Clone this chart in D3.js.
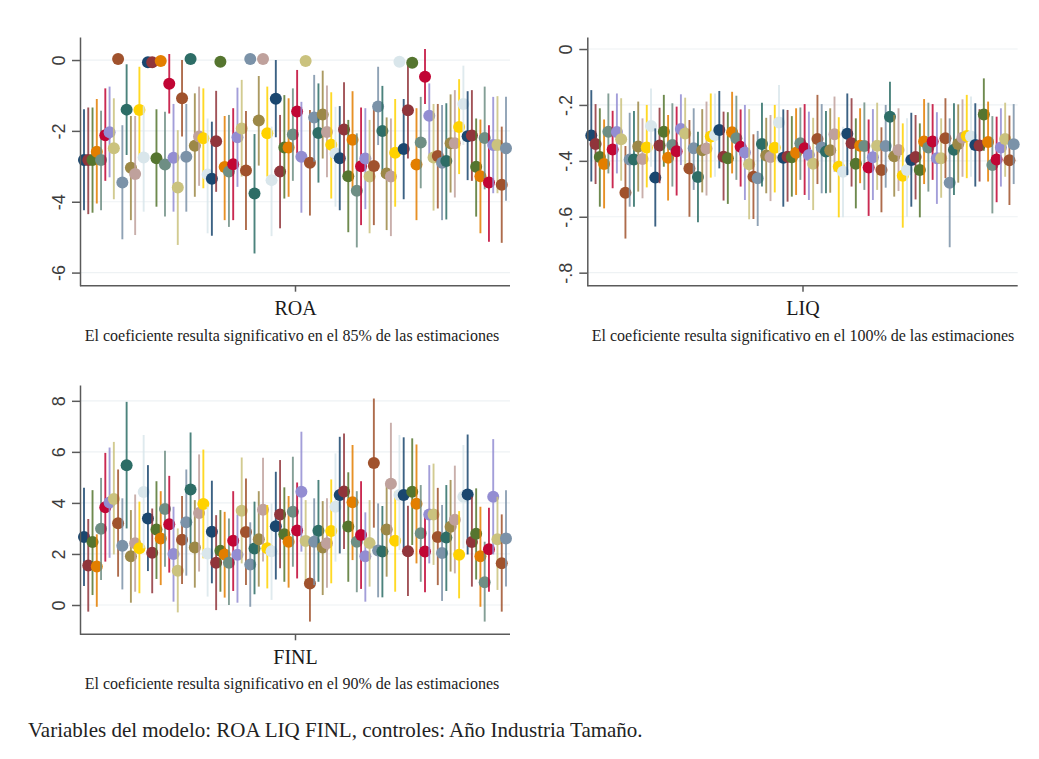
<!DOCTYPE html>
<html>
<head>
<meta charset="utf-8">
<script src="https://cdnjs.cloudflare.com/ajax/libs/d3/7.8.5/d3.min.js"></script>
<style>
    html, body { margin: 0; padding: 0; background: #fff; }
    svg { display: block; }
    .grid line { stroke: #eef2f4; stroke-width: 1.2; }
    .axis path, .axis line { stroke: #5a5a5a; stroke-width: 1.5; }
    .axis text { fill: #3c3c3c; font-family: "Liberation Sans", Arial, sans-serif; font-size: 18px; }
    .axis-x text { fill: #1a1a1a; font-family: "Liberation Serif", "Times New Roman", serif; font-size: 20px; }
    .note { fill: #222; font-family: "Liberation Serif", "Times New Roman", serif; font-size: 16px; text-anchor: middle; }
    .footnote { fill: #222; font-family: "Liberation Serif", "Times New Roman", serif; font-size: 21px; }
</style>
</head>
<body>
<div id="chart"></div>
<script>
// Stata s2color cycle, 15 colours repeated over the 100 estimations
const seriesColors = ['#1a476f','#90353b','#55752f','#e37e00','#6e8e84','#c10534','#938dd2','#cac27e','#a0522d','#7b92a8','#2d6d66','#9c8847','#bfa19c','#ffd200','#d9e6eb'];
const estimations = d3.range(1, 101);

const roaCoef = [-2.82,-2.82,-2.82,-2.59,-2.82,-2.12,-2.04,-2.49,0.03,-3.46,-1.40,-3.04,-3.22,-1.41,-2.75,-0.06,-0.06,-2.77,-0.03,-2.95,
    -0.67,-2.76,-3.60,-1.08,-2.73,0.03,-2.42,-2.16,-2.21,-3.23,-3.35,-2.29,-0.05,-3.02,-3.15,-2.94,-2.18,-1.93,-3.12,0.03,
    -3.77,-1.71,0.03,-2.07,-3.39,-1.09,-3.15,-2.47,-2.47,-2.10,-1.45,-2.73,-0.03,-2.90,-1.62,-2.06,-1.54,-2.03,-2.39,-2.64,
    -2.77,-1.96,-3.28,-2.25,-3.69,-3.00,-2.78,-3.29,-2.99,-1.31,-2.00,-3.20,-3.29,-2.62,-0.05,-2.51,-1.42,-0.08,-2.95,-2.33,
    -0.47,-1.57,-2.75,-2.71,-2.90,-2.85,-2.35,-2.35,-1.89,-1.24,-2.15,-2.13,-3.01,-3.28,-2.20,-3.46,-2.40,-2.40,-3.52,-2.49];
const roaLow = [-4.24,-4.35,-4.31,-4.05,-4.24,-3.41,-3.31,-3.93,null,-5.06,-2.68,-4.52,-4.94,-2.73,-4.28,null,null,-4.14,null,-4.42,
    -1.51,-4.28,-5.22,-2.16,-4.28,null,-3.86,-3.55,-3.62,-4.89,-4.96,-3.72,null,-4.52,-4.71,-4.52,-3.58,-3.29,-4.80,null,
    -5.46,-2.98,null,-3.29,-4.97,-2.18,-4.75,-3.91,-3.86,-3.41,-2.64,-4.31,null,-4.39,-2.87,-3.46,-2.78,-3.31,-3.91,-4.14,
    -4.24,-3.29,-4.86,-3.67,-5.29,-4.66,-4.21,-4.89,-4.66,-2.40,-3.29,-4.80,-4.97,-4.14,null,-3.93,-2.78,null,-4.52,-3.62,
    -1.24,-2.73,-4.25,-4.19,-4.52,-4.50,-3.74,-3.88,-3.22,-2.40,-3.39,-3.41,-4.42,-4.89,-3.65,-5.13,-3.76,-3.76,-5.16,-3.97];
const roaHigh = [-1.39,-1.34,-1.34,-1.10,-1.43,-0.80,-0.75,-1.08,null,-1.84,-0.12,-1.58,-1.58,-0.19,-1.30,null,null,-1.39,null,-1.46,
    0.17,-1.24,-1.98,0.00,-1.24,null,-0.94,-0.75,-0.80,-1.65,-1.74,-0.87,null,-1.58,-1.55,-1.36,-0.78,-0.56,-1.44,null,
    -2.09,-0.45,null,-0.75,-1.88,0.00,-1.55,-0.99,-1.08,-0.80,-0.28,-1.18,null,-1.41,-0.42,-0.66,-0.30,-0.72,-0.91,-1.32,
    -1.30,-0.63,-1.69,-0.88,-2.07,-1.34,-1.36,-1.69,-1.36,-0.19,-0.73,-1.62,-1.65,-1.10,null,-1.10,-0.09,null,-1.36,-1.04,
    0.31,-0.66,-1.24,-1.24,-1.27,-1.22,-0.97,-0.85,-0.54,-0.16,-0.88,-0.85,-1.65,-1.68,-0.75,-1.84,-1.04,-1.02,-1.88,-1.04];

const liqCoef = [-0.309,-0.340,-0.386,-0.411,-0.296,-0.359,-0.297,-0.323,-0.514,-0.395,-0.395,-0.349,-0.393,-0.352,-0.275,-0.460,-0.345,-0.296,-0.389,-0.343,
    -0.366,-0.286,-0.302,-0.427,-0.355,-0.458,-0.362,-0.356,-0.313,-0.308,-0.290,-0.385,-0.391,-0.298,-0.319,-0.350,-0.370,-0.412,-0.457,-0.462,
    -0.340,-0.381,-0.386,-0.353,-0.263,-0.389,-0.385,-0.387,-0.371,-0.337,-0.355,-0.379,-0.410,-0.322,-0.352,-0.367,-0.362,-0.305,-0.421,-0.439,
    -0.303,-0.337,-0.410,-0.346,-0.347,-0.424,-0.387,-0.346,-0.433,-0.347,-0.242,-0.384,-0.361,-0.453,-0.433,-0.397,-0.386,-0.433,-0.331,-0.352,
    -0.331,-0.391,-0.391,-0.319,-0.478,-0.360,-0.340,-0.317,-0.311,-0.313,-0.343,-0.345,-0.234,-0.333,-0.415,-0.395,-0.352,-0.322,-0.398,-0.341];
const liqLow = [-0.474,-0.483,-0.564,-0.570,-0.445,-0.498,-0.445,-0.471,-0.678,-0.564,-0.564,-0.510,-0.534,-0.495,-0.421,-0.635,-0.480,-0.421,-0.542,-0.492,
    -0.524,-0.415,-0.433,-0.600,-0.504,-0.620,-0.513,-0.524,-0.460,-0.457,-0.427,-0.542,-0.554,-0.445,-0.468,-0.492,-0.540,-0.609,-0.608,-0.633,
    -0.492,-0.516,-0.544,-0.513,-0.409,-0.564,-0.546,-0.528,-0.522,-0.468,-0.522,-0.540,-0.576,-0.483,-0.516,-0.516,-0.514,-0.439,-0.602,-0.602,
    -0.451,-0.492,-0.570,-0.480,-0.504,-0.597,-0.540,-0.504,-0.584,-0.496,-0.367,-0.528,-0.508,-0.639,-0.600,-0.564,-0.538,-0.602,-0.483,-0.510,
    -0.468,-0.554,-0.532,-0.462,-0.709,-0.522,-0.478,-0.457,-0.462,-0.457,-0.492,-0.474,-0.364,-0.474,-0.588,-0.548,-0.492,-0.457,-0.558,-0.483];
const liqHigh = [-0.147,-0.197,-0.212,-0.252,-0.159,-0.221,-0.159,-0.176,-0.347,-0.228,-0.222,-0.188,-0.248,-0.200,-0.141,-0.284,-0.210,-0.164,-0.236,-0.194,
    -0.206,-0.162,-0.174,-0.254,-0.212,-0.296,-0.215,-0.188,-0.159,-0.159,-0.150,-0.224,-0.226,-0.153,-0.167,-0.216,-0.200,-0.215,-0.305,-0.293,
    -0.192,-0.246,-0.236,-0.200,-0.129,-0.216,-0.218,-0.240,-0.212,-0.209,-0.197,-0.224,-0.246,-0.164,-0.197,-0.222,-0.212,-0.170,-0.244,-0.278,
    -0.159,-0.176,-0.248,-0.212,-0.191,-0.252,-0.215,-0.192,-0.280,-0.200,-0.117,-0.236,-0.212,-0.266,-0.248,-0.228,-0.236,-0.266,-0.179,-0.192,
    -0.197,-0.226,-0.248,-0.176,-0.248,-0.194,-0.198,-0.180,-0.164,-0.170,-0.194,-0.215,-0.105,-0.188,-0.240,-0.242,-0.212,-0.192,-0.238,-0.197];

const finlCoef = [2.66,1.55,2.47,1.51,2.99,3.83,4.02,4.15,3.20,2.32,5.48,1.91,2.42,2.22,4.43,3.39,2.05,2.96,2.61,3.76,
    3.16,2.00,1.34,2.56,3.24,4.53,2.25,3.60,3.96,2.02,2.87,1.66,2.13,1.98,1.66,2.52,1.97,3.69,2.86,1.59,
    2.21,2.58,3.73,2.22,2.11,3.09,3.55,2.77,2.48,3.65,2.92,4.44,2.51,0.84,2.48,2.91,2.25,2.42,2.90,3.85,
    4.31,4.45,3.08,4.03,2.48,2.74,1.91,2.43,5.56,2.14,2.10,2.96,4.75,2.52,4.31,4.31,2.11,4.44,3.97,2.81,
    2.10,3.55,3.55,2.66,2.04,2.64,3.07,3.34,1.97,4.24,4.33,2.47,2.79,1.91,0.89,2.18,4.24,2.58,1.64,2.61];
const finlLow = [0.74,-0.26,0.39,-0.07,0.98,1.70,1.85,1.98,1.11,0.61,3.00,0.09,0.52,0.46,2.22,1.33,0.46,1.02,0.78,1.50,
    1.27,0.13,-0.29,0.82,1.15,2.28,0.68,1.31,1.83,0.33,0.85,-0.20,0.52,0.29,0.00,0.55,0.09,1.63,0.78,-0.07,
    0.42,0.72,1.70,0.65,0.20,1.00,1.44,0.91,0.68,1.50,1.04,2.09,0.85,-0.65,0.78,0.91,0.39,0.68,0.85,1.70,
    2.02,2.19,0.91,1.76,0.50,0.63,0.13,0.72,3.03,0.30,0.30,1.11,2.42,0.52,2.15,2.22,0.35,2.35,1.63,0.91,
    0.50,1.63,1.57,0.78,0.16,0.55,1.31,1.24,0.26,2.22,1.98,0.72,1.00,-0.07,-0.65,0.52,1.98,0.59,-0.26,0.72];
const finlHigh = [4.59,3.37,4.50,2.77,4.98,5.96,6.17,6.39,5.31,4.18,7.96,3.72,4.33,4.05,6.66,5.48,3.78,4.85,4.46,6.04,
    5.06,3.85,3.00,4.27,5.31,6.76,4.11,5.90,6.09,3.85,4.87,3.52,3.72,3.65,3.39,4.46,3.55,5.78,4.96,3.24,
    4.05,4.46,5.77,3.92,3.98,5.22,5.68,4.61,4.27,5.81,4.80,6.79,4.11,2.35,4.18,4.90,4.07,4.18,4.92,5.94,
    6.59,6.72,5.20,6.27,4.46,4.85,3.63,4.11,8.09,3.98,3.88,4.76,7.14,4.44,6.66,6.57,3.89,6.53,6.29,4.70,
    3.65,5.48,5.54,4.59,3.92,4.70,4.90,5.46,3.68,6.27,6.68,4.24,4.57,3.85,2.48,3.81,6.50,4.24,3.55,4.50];

const roaTicks = [0, -2, -4, -6];
const liqTicks = [0, -.2, -.4, -.6, -.8];
const finlTicks = [0, 2, 4, 6, 8];

const svg = d3.select('#chart').append('svg')
    .attr('width', 1039)
    .attr('height', 759)
    .attr('xmlns', 'http://www.w3.org/2000/svg');

function tickText(d){
    // Stata writes -.2 rather than -0.2
    return String(d).replace('0.', '.');
}

function drawPanel(config){
    const x = d3.scaleLinear().domain([1, 100]).range([config.left + 4, config.right - 4]);
    const y = d3.scaleLinear().domain(config.domain).range([config.bottom, config.top]);

    const g = svg.append('g');

    g.append('g')
        .attr('class', 'grid')
        .selectAll('line')
        .data(config.ticks)
        .join('line')
        .attr('x1', config.left)
        .attr('x2', config.right)
        .attr('y1', d => y(d))
        .attr('y2', d => y(d));

    const marks = g.append('g')
        .selectAll('g')
        .data(estimations)
        .join('g');

    marks.filter(d => config.low[d - 1] !== null)
        .append('line')
        .attr('x1', d => x(d))
        .attr('x2', d => x(d))
        .attr('y1', d => y(config.low[d - 1]))
        .attr('y2', d => y(config.high[d - 1]))
        .attr('stroke', d => seriesColors[(d - 1) % 15])
        .attr('stroke-width', 1.9)
        .attr('stroke-opacity', 0.85);

    marks.append('circle')
        .attr('cx', d => x(d))
        .attr('cy', d => y(config.coef[d - 1]))
        .attr('r', 6)
        .attr('fill', d => seriesColors[(d - 1) % 15]);

    const axisY = d3.axisLeft(y)
        .tickValues(config.ticks)
        .tickFormat(tickText)
        .tickSize(8)
        .tickSizeOuter(0);

    // tick labels stand on their side, as Stata draws them
    g.append('g')
        .attr('class', 'axis')
        .attr('transform', 'translate(' + config.left + ',0)')
        .call(axisY)
        .selectAll('text')
        .attr('text-anchor', 'middle')
        .attr('x', 0)
        .attr('y', 0)
        .attr('dy', 0)
        .attr('transform', 'translate(-15,0) rotate(-90)');

    // only one tick in the middle, it carries the name of the variable
    const axisX = d3.axisBottom(x)
        .tickValues([50.5])
        .tickFormat(() => config.name)
        .tickSize(6)
        .tickSizeOuter(0)
        .tickPadding(9.6);

    g.append('g')
        .attr('class', 'axis axis-x')
        .attr('transform', 'translate(0,' + config.bottom + ')')
        .call(axisX)
        .select('.domain')
        .attr('d', 'M' + config.left + ',0H' + config.right);

    g.append('text')
        .attr('class', 'note')
        .attr('x', config.noteX)
        .attr('y', config.bottom + 55)
        .text(config.note);
}

drawPanel({
    name: 'ROA', coef: roaCoef, low: roaLow, high: roaHigh, ticks: roaTicks,
    domain: [-6.37, 0.65], left: 80, right: 510, top: 37, bottom: 285.7, noteX: 292,
    note: 'El coeficiente resulta significativo en el 85% de las estimaciones'
});
drawPanel({
    name: 'LIQ', coef: liqCoef, low: liqLow, high: liqHigh, ticks: liqTicks,
    domain: [-0.8466, 0.043], left: 587.3, right: 1017.7, top: 37, bottom: 285.7, noteX: 803,
    note: 'El coeficiente resulta significativo en el 100% de las estimaciones'
});
drawPanel({
    name: 'FINL', coef: finlCoef, low: finlLow, high: finlHigh, ticks: finlTicks,
    domain: [-1.148, 8.62], left: 80, right: 510, top: 385, bottom: 634.3, noteX: 292,
    note: 'El coeficiente resulta significativo en el 90% de las estimaciones'
});

svg.append('text')
    .attr('class', 'footnote')
    .attr('x', 28)
    .attr('y', 737)
    .text('Variables del modelo: ROA LIQ FINL, controles: Año Industria Tamaño.');
</script>
</body>
</html>
